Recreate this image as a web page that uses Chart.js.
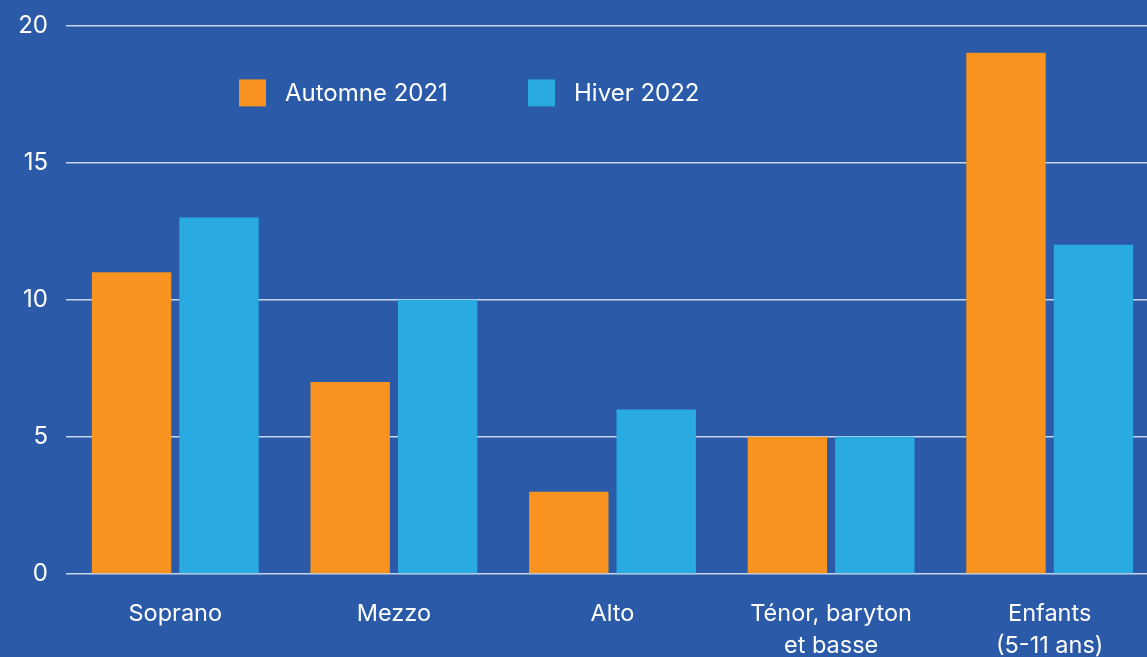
<!DOCTYPE html>
<html>
<head>
<meta charset="utf-8">
<script src="https://cdn.jsdelivr.net/npm/chart.js@4"></script>
<style>
  html, body { margin: 0; padding: 0; background: #2a5aa8; overflow: hidden; }
  #wrap { width: 1159px; height: 664px; margin-top: -7px; }
</style>
</head>
<body>
<div id="wrap"><canvas id="voices"></canvas></div>
<script>
const categories = ["Soprano", "Mezzo", "Alto", ["Ténor, baryton", "et basse"], ["Enfants", "(5-11 ans)"]];
const autumn2021 = [11, 7, 3, 5, 19];
const winter2022 = [13, 10, 6, 5, 12];
const yTicks = [0, 5, 10, 15, 20];

const FONT = "Inter";

// legend sits inside the plot, drawn by hand
const insideLegend = {
  id: "insideLegend",
  afterDraw(chart) {
    const ctx = chart.ctx;
    const a = chart.chartArea;
    const xs = [173, 462];
    ctx.save();
    ctx.font = "24px " + FONT;
    ctx.textBaseline = "middle";
    chart.data.datasets.forEach((ds, i) => {
      ctx.fillStyle = ds.backgroundColor;
      ctx.fillRect(a.left + xs[i], a.top + 54, 27, 27);
      ctx.fillStyle = "#ffffff";
      ctx.fillText(ds.label, a.left + xs[i] + 46, a.top + 68);
    });
    ctx.restore();
  },
};

new Chart(document.getElementById("voices"), {
  type: "bar",
  data: {
    labels: categories,
    datasets: [
      { label: "Automne 2021", data: autumn2021, backgroundColor: "#f7931e" },
      { label: "Hiver 2022", data: winter2022, backgroundColor: "#29abe2" },
    ],
  },
  options: {
    responsive: true,
    maintainAspectRatio: false,
    animation: false,
    barPercentage: 0.908,
    categoryPercentage: 0.8,
    plugins: { legend: { display: false }, tooltip: { enabled: false } },
    scales: {
      x: {
        grid: { display: false },
        border: { display: false },
        ticks: { color: "#ffffff", font: { family: FONT, size: 23.5, lineHeight: 1.36 }, padding: 16, maxRotation: 0 },
        afterFit(s) { s.height = 83; },
      },
      y: {
        min: 0,
        max: 20,
        afterBuildTicks(s) { s.ticks = yTicks.map((v) => ({ value: v })); },
        grid: { color: "rgba(255,255,255,0.75)", lineWidth: 1.5, drawTicks: false },
        border: { display: false },
        ticks: { color: "#ffffff", font: { family: FONT, size: 24 }, padding: 18 },
        afterFit(s) { s.width = 66; },
      },
    },
  },
  plugins: [insideLegend],
});
</script>
</body>
</html>
